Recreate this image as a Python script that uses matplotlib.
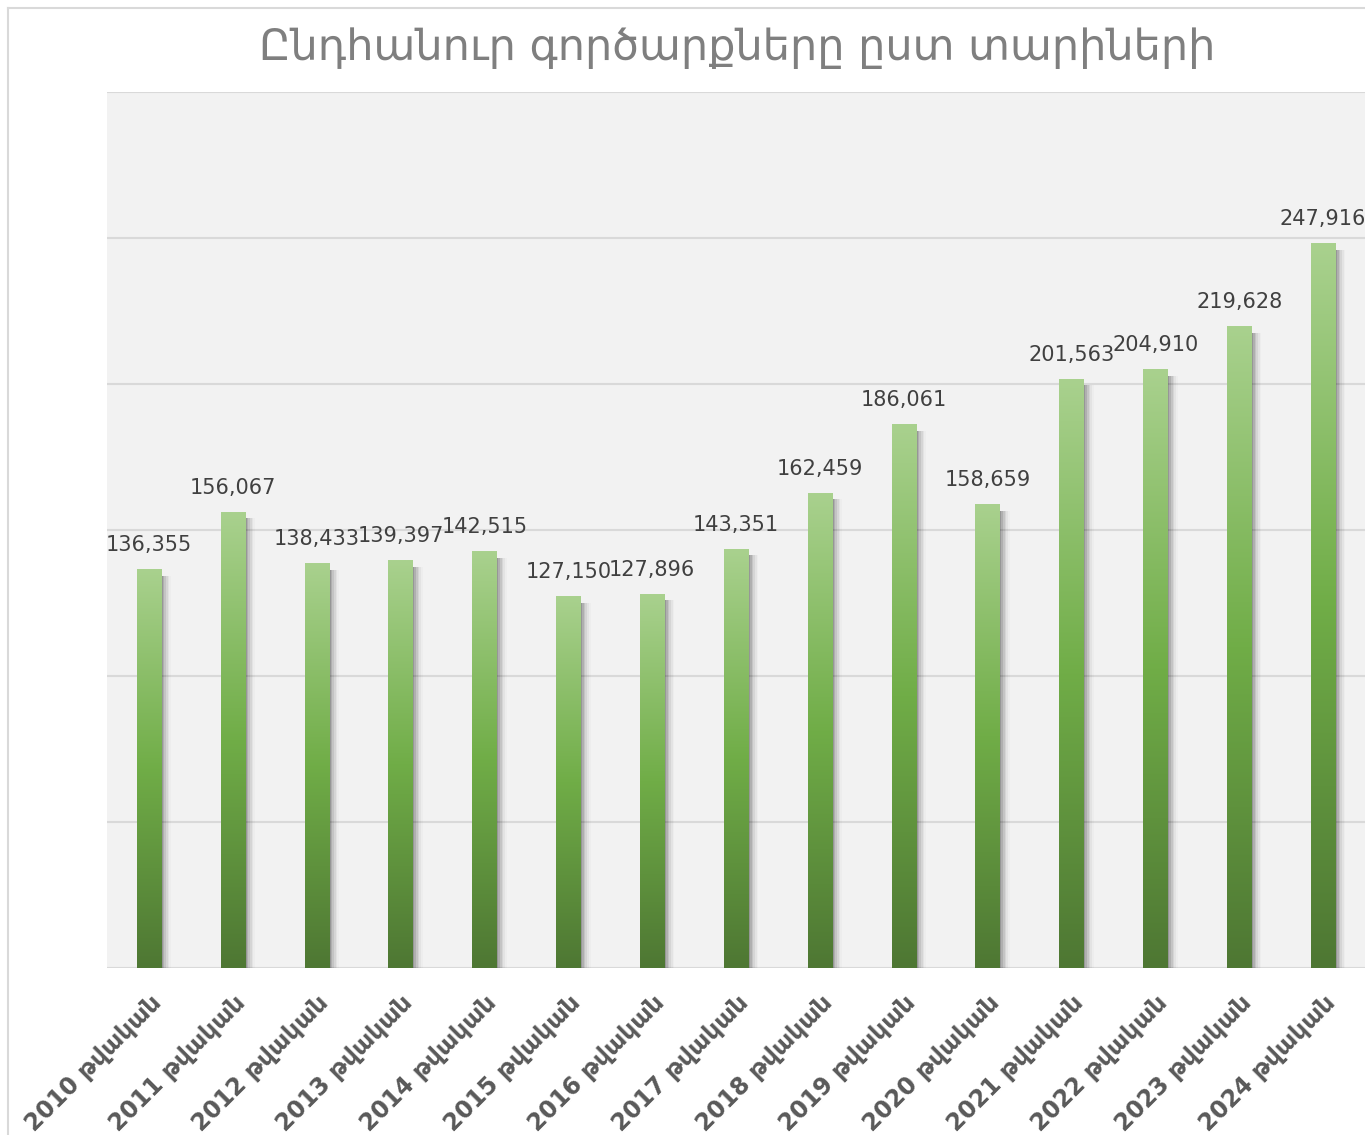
import numpy as np
import matplotlib.pyplot as plt
from matplotlib.colors import LinearSegmentedColormap

years = list(range(2010, 2025))
values = [136355, 156067, 138433, 139397, 142515, 127150, 127896, 143351,
          162459, 186061, 158659, 201563, 204910, 219628, 247916]
labels = [f'{y} թվական' for y in years]
title = 'Ընդհանուր գործարքները ըստ տարիների'

plt.rcParams['font.family'] = ['DejaVu Sans']

fig = plt.figure(figsize=(13.65, 11.35), dpi=100)
ax = fig.add_axes([0.0784, 0.147, 0.9216, 0.772])
ax.set_facecolor('#f2f2f2')

ymax = 300000
ax.set_xlim(-0.5, len(values) - 0.5)
ax.set_ylim(0, ymax)
ax.set_yticks(np.arange(0, ymax + 1, 50000))
ax.yaxis.grid(True, color='#d9d9d9', lw=1.5)
ax.set_axisbelow(True)
ax.tick_params(axis='y', length=0, labelleft=False)
ax.tick_params(axis='x', length=0, pad=16)
for s in ax.spines.values():
    s.set_visible(False)

cmap = LinearSegmentedColormap.from_list('g', ['#4e7733', '#70ad47', '#a9d18e'])
grad = np.linspace(0, 1, 256).reshape(-1, 1)
w = 0.29
for i, v in enumerate(values):
    # soft shadow on the right
    for k, a in enumerate([0.14, 0.10, 0.08, 0.06, 0.04, 0.02]):
        ax.bar(i + 0.02 + k * 0.02, v - 2000, width=w, bottom=0,
               color='#000000', alpha=a, lw=0, zorder=2)
    ax.imshow(grad, cmap=cmap, origin='lower', aspect='auto',
              extent=[i - w / 2, i + w / 2, 0, v], zorder=3)
    ax.text(i, v + 5000, f'{v:,}', ha='center', va='bottom',
            fontsize=15, color='#404040', zorder=4)

ax.set_xlim(-0.5, len(values) - 0.5)
ax.set_ylim(0, ymax)
ax.set_xticks(range(len(values)))
ax.set_xticklabels(labels, rotation=45, ha='right', rotation_mode='anchor',
                   fontsize=17, fontweight='bold', color='#595959')

fig.text(0.54, 0.958, title, ha='center', va='center', fontsize=31,
         color='#7f7f7f')

# outer chart border
fig.add_artist(plt.Line2D([0.006, 0.006], [0, 0.993], color='#d9d9d9', lw=1.5))
fig.add_artist(plt.Line2D([0.006, 1], [0.993, 0.993], color='#d9d9d9', lw=1.5))

fig.savefig('out.png', dpi=100)
